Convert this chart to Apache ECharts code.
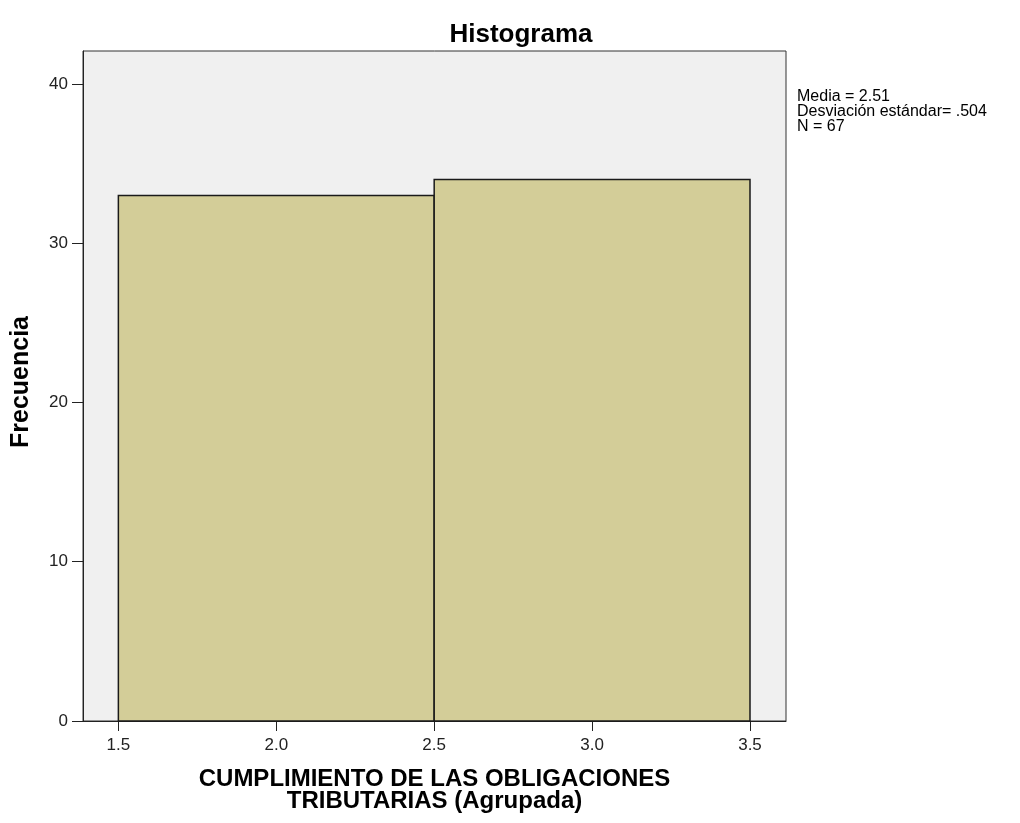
<!DOCTYPE html>
<html><head><meta charset="utf-8">
<script src="https://cdn.jsdelivr.net/npm/echarts@6/dist/echarts.min.js"></script>
<style>html,body{margin:0;padding:0;background:#fff}#c{width:1020px;height:823px}</style>
</head><body><div id="c"></div>
<script>
const binStarts = [1.5, 2.5];
const binEnds = [2.5, 3.5];
const frequencies = [33, 34];
const xTickValues = [1.5, 2.0, 2.5, 3.0, 3.5];
const yTickValues = [0, 10, 20, 30, 40];
const statsLines = ['Media = 2.51', 'Desviación estándar= .504', 'N = 67'];

const chart = echarts.init(document.getElementById('c'));
const data = frequencies.map((f, i) => [binStarts[i], binEnds[i], f]);
const font = '"Liberation Sans", Arial, sans-serif';
chart.setOption({
  animation: false,
  title: {
    text: 'Histograma', left: 516, top: 17, textAlign: 'center',
    textStyle: { fontFamily: font, fontSize: 26, fontWeight: 'bold', color: '#000' }
  },
  grid: {
    left: 83, right: 234, top: 51, bottom: 102,
    outerBoundsMode: 'none', containLabel: false,
    show: true, backgroundColor: '#f0f0f0', borderColor: '#333', borderWidth: 1
  },
  xAxis: {
    type: 'value', min: 1.388, max: 3.614,
    axisLine: { show: true, lineStyle: { color: '#222' } },
    axisTick: { show: true, length: 10, customValues: xTickValues, lineStyle: { color: '#222' } },
    axisLabel: { customValues: xTickValues, formatter: v => v.toFixed(1), fontFamily: font, fontSize: 17, color: '#222', margin: 16 },
    splitLine: { show: false },
    name: 'CUMPLIMIENTO DE LAS OBLIGACIONES\nTRIBUTARIAS (Agrupada)',
    nameLocation: 'middle', nameGap: 47,
    nameTextStyle: { fontFamily: font, fontSize: 24, fontWeight: 'bold', color: '#000', lineHeight: 22 }
  },
  yAxis: {
    type: 'value', min: 0, max: 42.07,
    axisLine: { show: true, lineStyle: { color: '#222' } },
    axisTick: { show: true, length: 11, customValues: yTickValues, lineStyle: { color: '#222' } },
    axisLabel: { customValues: yTickValues, fontFamily: font, fontSize: 17, color: '#222', margin: 15 },
    splitLine: { show: false }
  },
  series: [{
    type: 'custom',
    data: data,
    encode: { x: [0, 1], y: 2 },
    renderItem: function (params, api) {
      const p0 = api.coord([api.value(0), api.value(2)]);
      const p1 = api.coord([api.value(1), 0]);
      return {
        type: 'rect',
        shape: { x: p0[0], y: p0[1], width: p1[0] - p0[0], height: p1[1] - p0[1] },
        style: { fill: '#d3cd98', stroke: '#1a1a1a', lineWidth: 1.5 }
      };
    }
  }],
  graphic: [{
    type: 'text', x: 21, y: 382, rotation: Math.PI / 2,
    style: { text: 'Frecuencia', fontFamily: font, fontSize: 25, fontWeight: 'bold', fill: '#000', align: 'center', verticalAlign: 'middle' }
  }, {
    type: 'text', left: 797, top: 89,
    style: { text: statsLines.join('\n'), fontFamily: font, fontSize: 16, lineHeight: 15, fill: '#000' }
  }]
});
</script></body></html>
